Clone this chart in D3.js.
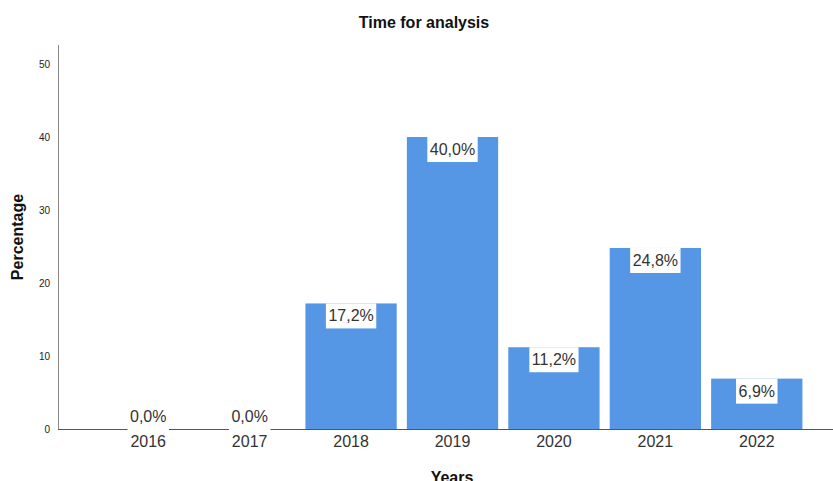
<!DOCTYPE html>
<html><head><meta charset="utf-8">
<script src="https://cdn.jsdelivr.net/npm/d3@7"></script>
<style>body{margin:0;background:#fff}svg{display:block}</style>
</head><body>
<svg id="c" width="833" height="481"></svg>
<script>
const categories = ["2016","2017","2018","2019","2020","2021","2022"];
const values = [0, 0, 17.2, 40.0, 11.2, 24.8, 6.9];
const yTicks = [0, 10, 20, 30, 40, 50];
const title = "Time for analysis";
const xTitle = "Years";
const yTitle = "Percentage";

const svg = d3.select("#c");
const font = "'Liberation Sans', Arial, sans-serif";
const x = d3.scaleBand().domain(categories).range([97.5, 807.5]).paddingInner(0.1).paddingOuter(0.05);
const y = d3.scaleLinear().domain([0, 50]).range([429, 64]);

svg.append("text").attr("x", 424).attr("y", 28).attr("text-anchor", "middle")
  .attr("font-family", font).attr("font-weight", "bold").attr("font-size", 16).attr("fill", "#111").text(title);

// y axis
const ya = svg.append("g").attr("transform", "translate(58,0)").call(d3.axisLeft(y).tickValues(yTicks).tickSize(0).tickPadding(8));
ya.select(".domain").remove();
ya.selectAll("text").attr("font-family", font).attr("font-size", 10).attr("fill", "#222");
svg.append("line").attr("x1", 58.5).attr("x2", 58.5).attr("y1", 45).attr("y2", 429).attr("stroke", "#888").attr("stroke-width", 1);

// bars
svg.append("g").selectAll("rect").data(values).join("rect")
  .attr("x", (d, i) => x(categories[i])).attr("width", x.bandwidth())
  .attr("y", d => y(d)).attr("height", d => 429 - y(d)).attr("fill", "#5596E5");

// x axis line
svg.append("line").attr("x1", 58).attr("x2", 833).attr("y1", 429.5).attr("y2", 429.5).attr("stroke", "#555").attr("stroke-width", 1);

const xa = svg.append("g").attr("transform", "translate(0,429)").call(d3.axisBottom(x).tickSize(0).tickPadding(7));
xa.select(".domain").remove();
xa.selectAll("text").attr("font-family", font).attr("font-size", 16).attr("fill", "#333");

// labels
const lab = svg.append("g").selectAll("g").data(values).join("g")
  .attr("transform", (d, i) => `translate(${x(categories[i]) + x.bandwidth() / 2},${Math.min(y(d), 404)})`);
lab.each(function(d) {
  const g = d3.select(this);
  const t = g.append("text").attr("x", 0).attr("y", 18).attr("text-anchor", "middle")
    .attr("font-family", font).attr("font-size", 16).attr("fill", "#333")
    .text(d.toFixed(1).replace(".", ",") + "%");
  const w = t.node().getComputedTextLength() + 5;
  g.insert("rect", "text").attr("x", -w / 2).attr("y", 0).attr("width", w).attr("height", d === 0 ? 26 : 25).attr("fill", "#fff");
});

svg.append("text").attr("x", 452).attr("y", 483).attr("text-anchor", "middle")
  .attr("font-family", font).attr("font-weight", "bold").attr("font-size", 16).attr("fill", "#111").text(xTitle);
svg.append("text").attr("transform", "translate(23,237) rotate(-90)").attr("text-anchor", "middle")
  .attr("font-family", font).attr("font-weight", "bold").attr("font-size", 16).attr("fill", "#111").text(yTitle);
</script>
</body></html>
